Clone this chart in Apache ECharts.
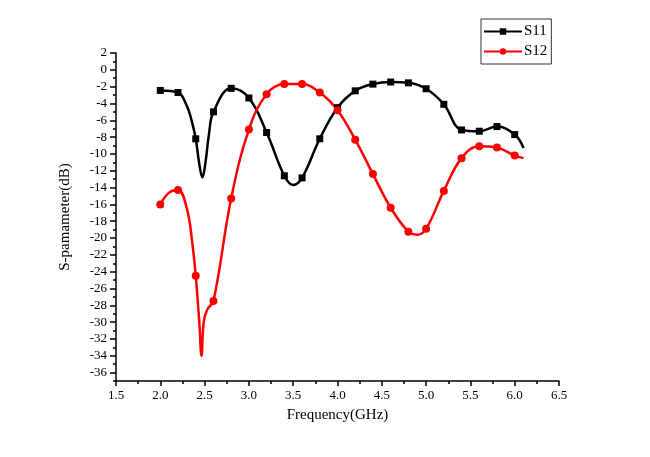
<!DOCTYPE html>
<html>
<head>
<meta charset="utf-8">
<script src="https://cdn.jsdelivr.net/npm/echarts@6/dist/echarts.min.js"></script>
<style>
  html, body { margin: 0; padding: 0; background: #fff; }
  #main { width: 650px; height: 457px; }
</style>
</head>
<body>
<div id="main"></div>
<script>
// measured frequencies (GHz) that carry a marker
var freqMarks = [2.0, 2.2, 2.4, 2.6, 2.8, 3.0, 3.2, 3.4, 3.6, 3.8, 4.0, 4.2, 4.4, 4.6, 4.8, 5.0, 5.2, 5.4, 5.6, 5.8, 6.0];
var s11Marks = [-2.45, -2.7, -8.2, -5.0, -2.2, -3.35, -7.45, -12.6, -12.85, -8.2, -4.5, -2.5, -1.7, -1.45, -1.55, -2.25, -4.1, -7.15, -7.3, -6.75, -7.7];
var s12Marks = [-16.0, -14.3, -24.5, -27.5, -15.3, -7.1, -2.9, -1.7, -1.7, -2.7, -4.8, -8.3, -12.4, -16.4, -19.25, -18.9, -14.4, -10.5, -9.1, -9.25, -10.2];

// curve points between markers (no symbol)
var s11ExtraF = [2.3, 2.35, 2.44, 2.475, 2.51, 2.55, 3.5, 6.1];
var s11ExtraV = [-4.3, -5.9, -11.2, -12.8, -11.0, -7.6, -13.7, -9.3];
var s12ExtraF = [2.1, 2.3, 2.36, 2.44, 2.465, 2.49, 2.53, 4.9, 6.1];
var s12ExtraV = [-14.6, -16.5, -20.5, -30.0, -34.0, -30.0, -28.5, -19.6, -10.5];

var yLabels = [];
for (var v = -36; v <= 2; v += 2) yLabels.push(v);

function buildData(markV, extraF, extraV) {
    var pts = [];
    for (var i = 0; i < freqMarks.length; i++) {
        pts.push({ value: [freqMarks[i], markV[i]] });
    }
    for (var j = 0; j < extraF.length; j++) {
        pts.push({ value: [extraF[j], extraV[j]], symbol: 'none' });
    }
    pts.sort(function (a, b) { return a.value[0] - b.value[0]; });
    return pts;
}

var font = 'Liberation Serif, Times New Roman, serif';
var chart = echarts.init(document.getElementById('main'));
chart.setOption({
    animation: false,
    backgroundColor: '#fff',
    textStyle: { fontFamily: font },
    grid: { left: 116, right: 91, top: 53, bottom: 76 },
    legend: {
        orient: 'vertical',
        left: 481,
        top: 19,
        padding: [5, 4, 5, 2],
        itemGap: 5,
        itemWidth: 38,
        itemHeight: 8,
        borderColor: '#333',
        borderWidth: 1,
        textStyle: { fontFamily: font, fontSize: 15, color: '#000', padding: [0, 0, 0, -3] },
        data: ['S11', 'S12']
    },
    xAxis: {
        type: 'value',
        min: 1.5, max: 6.5, interval: 0.5,
        name: 'Frequency(GHz)',
        nameLocation: 'middle',
        nameGap: 27,
        nameTextStyle: { fontFamily: font, fontSize: 15, color: '#000' },
        axisLine: { onZero: false, lineStyle: { color: '#000', width: 1.5 } },
        axisTick: { length: 5, lineStyle: { color: '#000', width: 1.5 } },
        minorTick: { show: true, splitNumber: 2, length: 3, lineStyle: { color: '#000', width: 1.5 } },
        axisLabel: {
            margin: 8, fontFamily: font, fontSize: 13, color: '#000',
            formatter: function (val) { return val.toFixed(1); }
        },
        splitLine: { show: false }
    },
    yAxis: [{
        type: 'value',
        min: -37, max: 2,
        name: 'S-pamameter(dB)',
        nameLocation: 'middle',
        nameGap: 43,
        nameTextStyle: { fontFamily: font, fontSize: 15, color: '#000' },
        axisLine: { show: true, onZero: false, lineStyle: { color: '#000', width: 1.5 } },
        axisTick: { customValues: yLabels, length: 6, lineStyle: { color: '#000', width: 1.5 } },
        axisLabel: { customValues: yLabels, margin: 9, fontFamily: font, fontSize: 13, color: '#000' },
        splitLine: { show: false }
    }, {
        // odd-valued minor ticks
        type: 'value',
        position: 'left',
        min: -37, max: 2, interval: 2,
        axisLine: { show: false, onZero: false },
        axisTick: { length: 3, lineStyle: { color: '#000', width: 1.5 } },
        axisLabel: { show: false },
        splitLine: { show: false }
    }],
    series: [{
        name: 'S11',
        type: 'line',
        smooth: 0.4,
        symbol: 'rect',
        symbolSize: 7,
        color: '#000',
        lineStyle: { width: 2.5, color: '#000' },
        itemStyle: { color: '#000' },
        data: buildData(s11Marks, s11ExtraF, s11ExtraV)
    }, {
        name: 'S12',
        type: 'line',
        smooth: 0.4,
        symbol: 'circle',
        symbolSize: 8,
        color: '#ff0000',
        lineStyle: { width: 2.5, color: '#ff0000' },
        itemStyle: { color: '#ff0000' },
        data: buildData(s12Marks, s12ExtraF, s12ExtraV)
    }]
});
</script>
</body>
</html>
